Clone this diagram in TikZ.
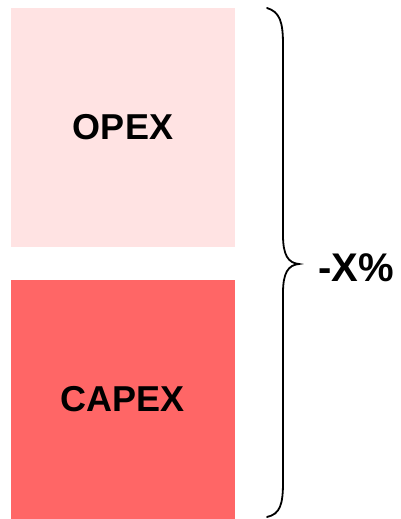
\documentclass[tikz,border=0pt]{standalone}
\usepackage{fontspec}
\setmainfont{Liberation Sans}
\definecolor{opexfill}{HTML}{FFE3E3}
\definecolor{capexfill}{HTML}{FF6666}
\begin{document}
\begin{tikzpicture}[x=1pt,y=-1pt,
  costbox/.style={draw=none,minimum width=224pt,minimum height=239pt,inner sep=0pt,
    font=\fontsize{36}{42}\selectfont\bfseries},
  bracestroke/.style={draw=black,line width=1.8pt,line cap=round}]
  \useasboundingbox (0,0) rectangle (401,519);
  \node[costbox,fill=opexfill] (opex) at (123,127.5) {OPEX};
  \node[costbox,fill=capexfill] (capex) at (123,399) {CAPEX};
  % curly brace spanning both boxes
  \coordinate (btop) at (267,8);
  \coordinate (bbot) at (267,517);
  \coordinate (btip) at (299,264);
  \draw[bracestroke] (btop) .. controls (280,12) and (283,22) .. (283,45)
    -- (283,235) .. controls (283,255) and (288,263) .. (btip)
    .. controls (288,265) and (283,273) .. (283,293)
    -- (283,482) .. controls (283,505) and (280,514) .. (bbot);
  \node[font=\fontsize{40}{44}\selectfont\bfseries] (pct) at (356,268) {-X\%};
\end{tikzpicture}
\end{document}
